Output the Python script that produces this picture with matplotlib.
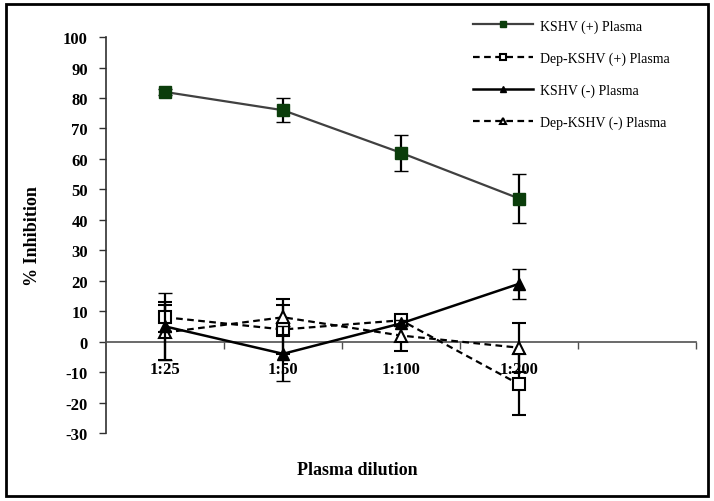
import matplotlib
matplotlib.use("Agg")
import matplotlib.pyplot as plt
from matplotlib.patches import Rectangle
from matplotlib.lines import Line2D
import numpy as np

plt.rcParams['font.family'] = ['Liberation Serif', 'DejaVu Serif']

dilutions = ["1:25", "1:50", "1:100", "1:200"]
kshv_pos = [82, 76, 62, 47]
kshv_pos_err = [1, 4, 6, 8]
dep_pos = [8, 4, 7, -14]
dep_pos_err = [5, 8, 1, 10]
kshv_neg = [5, -4, 6, 19]
kshv_neg_err = [11, 9, 1, 5]
dep_neg = [3, 8, 2, -2]
dep_neg_err = [9, 6, 5, 8]
yticks = list(range(-30, 101, 10))
labels = ['KSHV (+) Plasma', 'Dep-KSHV (+) Plasma', 'KSHV (-) Plasma', 'Dep-KSHV (-) Plasma']

fig = plt.figure(figsize=(7.14, 5.02), dpi=100)
ax = fig.add_axes([0.1485, 0.1355, 0.8265, 0.7885])
x = np.arange(len(dilutions))

styles = [
    dict(color='#404040', lw=1.6, ls='-', marker='s', mfc='#0b3d0b', mec='#0b3d0b', mew=1.0),
    dict(color='black', lw=1.6, ls=(0, (3, 2)), marker='s', mfc='white', mec='black', mew=1.5),
    dict(color='black', lw=1.8, ls='-', marker='^', mfc='black', mec='black', mew=1.0),
    dict(color='black', lw=1.6, ls=(0, (3, 2)), marker='^', mfc='white', mec='black', mew=1.5),
]
series = [(kshv_pos, kshv_pos_err), (dep_pos, dep_pos_err), (kshv_neg, kshv_neg_err), (dep_neg, dep_neg_err)]
zorders = [3, 3, 4, 3]

ekw = dict(capsize=5, elinewidth=1.6, capthick=1.6, ecolor='black')
for (vals, errs), st, z in zip(series, styles, zorders):
    ax.errorbar(x, vals, yerr=errs, ms=9, zorder=z, **st, **ekw)

ax.set_xlim(-0.5, 4.5)
ax.set_ylim(-30, 100)
ax.spines['top'].set_visible(False)
ax.spines['right'].set_visible(False)
ax.spines['bottom'].set_position(('data', 0))
ax.spines['bottom'].set_color('#505050')
ax.spines['left'].set_color('#303030')
ax.spines['bottom'].set_linewidth(1.2)
ax.spines['left'].set_linewidth(1.2)

ax.set_yticks(yticks)
ax.set_yticklabels([str(v) for v in yticks], fontsize=12, fontweight='bold')
ax.tick_params(axis='y', direction='out', length=5, width=1, color='#303030', pad=8)

ax.set_xticks(np.arange(0.5, 4.6, 1.0))
ax.set_xticklabels([])
ax.tick_params(axis='x', which='major', direction='out', length=5, width=1, color='#505050')
ax.set_xticks(x, minor=True)
ax.set_xticklabels(dilutions, minor=True, fontsize=12, fontweight='bold')
ax.tick_params(axis='x', which='minor', length=0, pad=14)

ax.set_ylabel('% Inhibition', fontsize=13, fontweight='bold', labelpad=16)
fig.text(0.5, 0.062, 'Plasma dilution', ha='center', va='center', fontsize=13, fontweight='bold')

handles = [Line2D([0], [0], ms=5, **st) for st in styles]
fig.legend(handles, labels, loc='upper left', bbox_to_anchor=(0.645, 0.985), frameon=False,
           fontsize=10, handlelength=4.3, labelspacing=1.35, handletextpad=0.5)

fig.patches.append(Rectangle((0.008, 0.01), 0.984, 0.98, transform=fig.transFigure,
                             fill=False, edgecolor='black', linewidth=2))

fig.savefig('out.png', dpi=100)
